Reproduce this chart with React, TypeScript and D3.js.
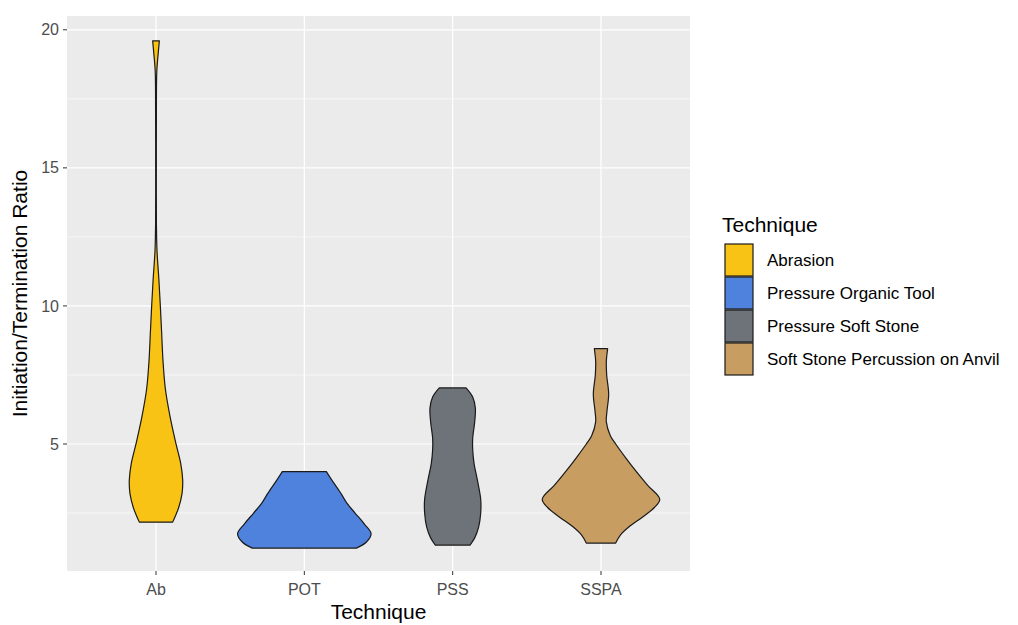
import React from "react";
import * as d3 from "d3";

const categories = ["Ab", "POT", "PSS", "SSPA"];
const legendLabels = ["Abrasion", "Pressure Organic Tool", "Pressure Soft Stone", "Soft Stone Percussion on Anvil"];
const fills = ["#F9C316", "#4F82DC", "#6D7379", "#C89D62"];
const yTicks = [5, 10, 15, 20];
const yMinor = [2.5, 7.5, 12.5, 17.5];

// density profiles: [ratio value, relative half-width (0..1)]
const abProfile: [number, number][] = [
  [2.17, 0.25], [2.7, 0.34], [3.2, 0.39], [3.7, 0.4], [4.3, 0.37], [5.0, 0.3], [6.0, 0.21],
  [7.0, 0.14], [8.0, 0.105], [9.0, 0.085], [10.0, 0.065], [11.0, 0.042], [12.0, 0.015], [13.0, 0.006],
  [15.0, 0.005], [17.0, 0.006], [18.5, 0.012], [19.2, 0.035], [19.6, 0.05],
];
const potProfile: [number, number][] = [
  [1.23, 0.78], [1.45, 0.93], [1.75, 1.0], [2.1, 0.9], [2.5, 0.76], [2.85, 0.64], [3.2, 0.55],
  [3.7, 0.41], [4.0, 0.33],
];
const pssProfile: [number, number][] = [
  [1.34, 0.26], [1.6, 0.33], [2.0, 0.39], [2.5, 0.42], [3.0, 0.42], [3.7, 0.37], [4.3, 0.32],
  [4.8, 0.3], [5.2, 0.3], [5.8, 0.33], [6.3, 0.34], [6.7, 0.3], [7.03, 0.2],
];
const sspaProfile: [number, number][] = [
  [1.41, 0.22], [1.7, 0.29], [2.0, 0.42], [2.35, 0.62], [2.7, 0.8], [3.0, 0.88], [3.5, 0.7],
  [4.0, 0.53], [4.5, 0.37], [5.0, 0.22], [5.3, 0.14], [5.8, 0.08], [6.2, 0.09], [6.8, 0.115],
  [7.5, 0.085], [8.0, 0.08], [8.45, 0.1],
];
const profiles = [abProfile, potProfile, pssProfile, sspaProfile];

const W = 1018, H = 625;
const panel = { left: 67, right: 690, top: 16, bottom: 571 };
const FONT = "'Liberation Sans', Arial, sans-serif";

export default function App() {
  const x = d3.scalePoint<string>().domain(categories).range([panel.left, panel.right]).padding(0.6);
  const y = d3.scaleLinear().domain([0.4, 20.5]).range([panel.bottom, panel.top]);
  const halfMax = x.step() * 0.45;

  return (
    <svg width={W} height={H} style={{ position: "absolute", left: 0, top: 0, background: "#fff" }}>
      <rect x={panel.left} y={panel.top} width={panel.right - panel.left} height={panel.bottom - panel.top} fill="#EBEBEB" />
      {yMinor.map((t) => (
        <line key={"mn" + t} x1={panel.left} x2={panel.right} y1={y(t)} y2={y(t)} stroke="#fff" strokeWidth={0.6} />
      ))}
      {yTicks.map((t) => (
        <line key={"mj" + t} x1={panel.left} x2={panel.right} y1={y(t)} y2={y(t)} stroke="#fff" strokeWidth={1.2} />
      ))}
      {categories.map((c) => (
        <line key={"vx" + c} x1={x(c)} x2={x(c)} y1={panel.top} y2={panel.bottom} stroke="#fff" strokeWidth={1.2} />
      ))}
      {profiles.map((p, i) => {
        const cx = x(categories[i]) as number;
        const area = d3
          .area<[number, number]>()
          .y((d) => y(d[0]))
          .x0((d) => cx - d[1] * halfMax)
          .x1((d) => cx + d[1] * halfMax)
          .curve(d3.curveCatmullRom.alpha(0.5));
        return (
          <path key={"v" + i} d={area(p) || ""} fill={fills[i]} stroke="#1a1a1a" strokeWidth={1.2} strokeLinejoin="round" />
        );
      })}
      {/* y axis */}
      {yTicks.map((t) => (
        <g key={"yt" + t}>
          <line x1={panel.left - 4} x2={panel.left} y1={y(t)} y2={y(t)} stroke="#333" strokeWidth={1} />
          <text x={panel.left - 8} y={y(t)} dy="0.35em" textAnchor="end" fontFamily={FONT} fontSize={16} fill="#4D4D4D">
            {t}
          </text>
        </g>
      ))}
      {categories.map((c) => (
        <g key={"xt" + c}>
          <line x1={x(c)} x2={x(c)} y1={panel.bottom} y2={panel.bottom + 4} stroke="#333" strokeWidth={1} />
          <text x={x(c)} y={panel.bottom + 24} textAnchor="middle" fontFamily={FONT} fontSize={16} fill="#4D4D4D">
            {c}
          </text>
        </g>
      ))}
      <text x={(panel.left + panel.right) / 2} y={619} textAnchor="middle" fontFamily={FONT} fontSize={21} fill="#000">
        Technique
      </text>
      <text
        transform={`translate(27,${(panel.top + panel.bottom) / 2}) rotate(-90)`}
        textAnchor="middle"
        fontFamily={FONT}
        fontSize={21}
        fill="#000"
      >
        Initiation/Termination Ratio
      </text>
      {/* legend */}
      <text x={722} y={232} fontFamily={FONT} fontSize={21} fill="#000">
        Technique
      </text>
      {legendLabels.map((l, i) => (
        <g key={"lg" + i}>
          <rect x={725} y={244 + i * 33} width={28} height={32} fill={fills[i]} stroke="#1a1a1a" strokeWidth={1.2} />
          <text x={767} y={260 + i * 33} dy="0.35em" fontFamily={FONT} fontSize={17} fill="#000">
            {l}
          </text>
        </g>
      ))}
    </svg>
  );
}
